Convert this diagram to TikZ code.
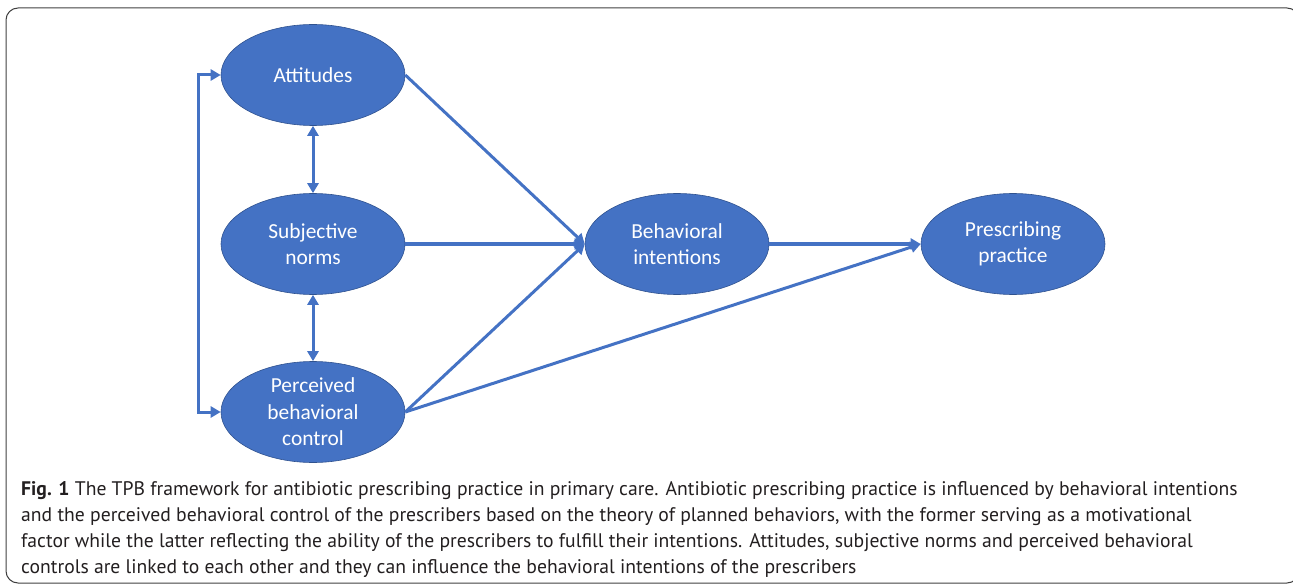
\documentclass[tikz,border=0pt]{standalone}
\usepackage{fontspec}
\setmainfont{Carlito}
\newfontfamily\capfont{PT Sans}
\usetikzlibrary{shapes.geometric,arrows.meta}

\definecolor{tpbblue}{HTML}{4472C4}
\definecolor{tpbedge}{HTML}{2F528F}
\definecolor{captext}{HTML}{231F20}

\tikzset{
  tpbtip/.tip={Triangle[length=10pt,width=11pt]},
}

\begin{document}
\begin{tikzpicture}[x=1pt,y=-1pt,
    construct/.style={ellipse,fill=tpbblue,draw=tpbedge,line width=0.6pt,
      minimum width=184pt,minimum height=101pt,inner sep=0pt,
      text=white,align=center,font=\fontsize{21.4}{26.5}\selectfont},
    link/.style={tpbblue,line width=3pt,-tpbtip},
    twoway/.style={tpbblue,line width=3pt,tpbtip-tpbtip}]
    \useasboundingbox (0,0) rectangle (1293,588);

    % frame round figure and caption
    \draw[black!75,line width=1pt,rounded corners=12pt] (6,8) rectangle (1299,583);

    \node[construct] (att) at (313,75) {Attitudes};
    \node[construct] (sub) at (313,244) {Subjective\\norms};
    \node[construct,inner ysep=-16pt] (pbc) at (313,412) {Perceived\\behavioral\\control};
    \node[construct] (bi) at (677,244) {Behavioral\\intentions};
    \node[construct] (pp) at (1013,244) {Prescribing\\practice};

    \draw[twoway] (att.south) -- (sub.north);
    \draw[twoway] (sub.south) -- (pbc.north);
    \draw[twoway] (att.west) -- ++(-22,0) |- (pbc.west);

    \draw[link] (att.east) -- (bi.west);
    \draw[link] (sub.east) -- (bi.west);
    \draw[link] (pbc.east) -- (bi.west);
    \draw[link] (pbc.east) -- (pp.west);
    \draw[link] (bi.east) -- (pp.west);

    \node[anchor=north west,align=left,inner sep=0pt,text=captext,
      font=\capfont\fontsize{19.65}{26}\selectfont] (cap) at (21,481)
      {\textbf{Fig. 1} The TPB framework for antibiotic prescribing practice in primary care. Antibiotic prescribing practice is influenced by behavioral intentions\\
       and the perceived behavioral control of the prescribers based on the theory of planned behaviors, with the former serving as a motivational\\
       factor while the latter reflecting the ability of the prescribers to fulfill their intentions. Attitudes, subjective norms and perceived behavioral\\
       controls are linked to each other and they can influence the behavioral intentions of the prescribers};
\end{tikzpicture}
\end{document}
